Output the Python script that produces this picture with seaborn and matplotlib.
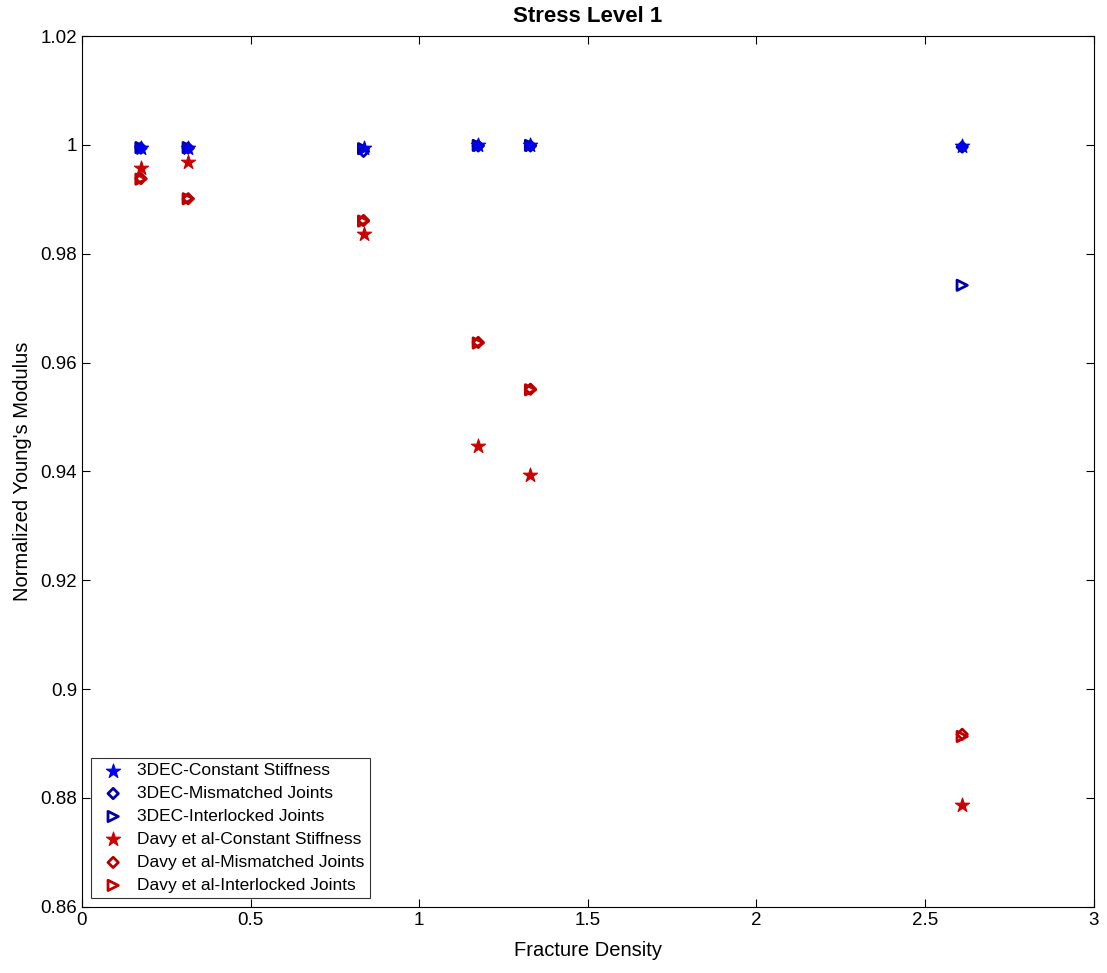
import matplotlib
matplotlib.use("Agg")
import matplotlib.pyplot as plt
import pandas as pd
import seaborn as sns

fracture_density = [0.175, 0.315, 0.835, 1.175, 1.33, 2.61]

dec_constant = [0.9995, 0.9995, 0.9995, 0.9999, 0.9999, 0.9997]
dec_mismatched = [0.9994, 0.9994, 0.9988, 0.9998, 0.9998, 0.9996]
dec_interlocked = [0.9995, 0.9995, 0.9993, 0.9999, 0.9999, 0.9742]
davy_constant = [0.9958, 0.9969, 0.9837, 0.9447, 0.9394, 0.8787]
davy_mismatched = [0.9938, 0.9901, 0.9861, 0.9637, 0.9551, 0.8917]
davy_interlocked = [0.9937, 0.9901, 0.9860, 0.9636, 0.9550, 0.8913]

series_names = [
    "3DEC-Constant Stiffness",
    "3DEC-Mismatched Joints",
    "3DEC-Interlocked Joints",
    "Davy et al-Constant Stiffness",
    "Davy et al-Mismatched Joints",
    "Davy et al-Interlocked Joints",
]
series_values = [dec_constant, dec_mismatched, dec_interlocked,
                 davy_constant, davy_mismatched, davy_interlocked]

# marker, colour, filled, size
styles = {
    "3DEC-Constant Stiffness": ("*", "#0000ee", True, 115),
    "3DEC-Mismatched Joints": ("D", "#0000aa", False, 28),
    "3DEC-Interlocked Joints": (">", "#0000aa", False, 55),
    "Davy et al-Constant Stiffness": ("*", "#cc0000", True, 115),
    "Davy et al-Mismatched Joints": ("D", "#b00000", False, 28),
    "Davy et al-Interlocked Joints": (">", "#c00000", False, 55),
}

sns.set_style("white")
plt.rcParams["font.family"] = ["Liberation Sans", "DejaVu Sans"]
plt.rcParams["text.color"] = "black"
plt.rcParams["axes.labelcolor"] = "black"

fig = plt.figure(figsize=(11.07, 9.73), dpi=100)
ax = fig.add_axes([0.074, 0.068, 0.914, 0.895])

for name, values in zip(series_names, series_values):
    df = pd.DataFrame({"x": fracture_density, "y": values})
    marker, color, filled, size = styles[name]
    if filled:
        # stars sit on top of the open markers, like in the original
        sns.scatterplot(data=df, x="x", y="y", ax=ax, marker=marker, s=size,
                        color=color, edgecolor=color, linewidth=0.8, label=name,
                        zorder=4)
    else:
        sns.scatterplot(data=df, x="x", y="y", ax=ax, marker=marker, s=size,
                        facecolors="none", edgecolor=color, linewidth=2.0, label=name,
                        zorder=3)

ax.set_xlim(0, 3)
ax.set_ylim(0.86, 1.02)
ax.set_xticks([0, 0.5, 1, 1.5, 2, 2.5, 3])
ax.set_xticklabels(["0", "0.5", "1", "1.5", "2", "2.5", "3"])
ax.set_yticks([0.86, 0.88, 0.9, 0.92, 0.94, 0.96, 0.98, 1.0, 1.02])
ax.set_yticklabels(["0.86", "0.88", "0.9", "0.92", "0.94", "0.96", "0.98", "1", "1.02"])
ax.tick_params(direction="in", length=6, width=0.8, labelsize=13.5,
               top=True, right=True, bottom=True, left=True, colors="black")
for spine in ax.spines.values():
    spine.set_color("black")
    spine.set_linewidth(0.8)

ax.set_xlabel("Fracture Density", fontsize=14.5, labelpad=9)
ax.set_ylabel("Normalized Young's Modulus", fontsize=14.5, labelpad=6)
ax.set_title("Stress Level 1", fontsize=16, fontweight="bold", pad=10)

leg = ax.legend(loc="lower left", fontsize=12.5, frameon=True, fancybox=False,
                edgecolor="black", borderaxespad=0.5, handletextpad=0.4,
                labelspacing=0.45, borderpad=0.3)
leg.get_frame().set_linewidth(0.8)
leg.set_zorder(5)

fig.savefig("out.png", dpi=100)
